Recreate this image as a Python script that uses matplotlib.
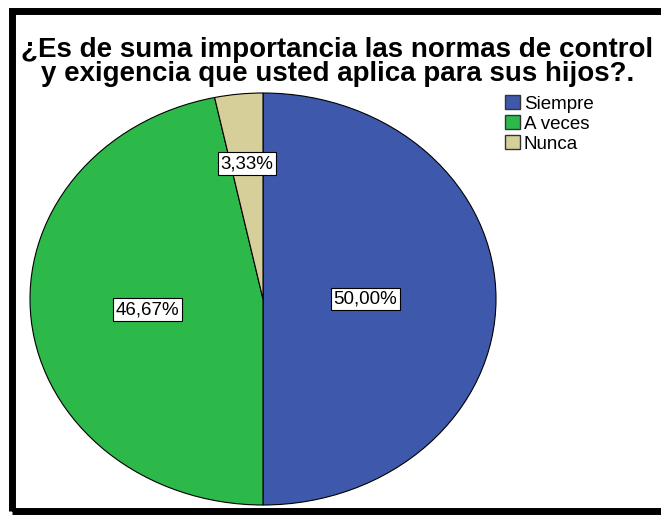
import matplotlib.pyplot as plt
from matplotlib.patches import Rectangle, Patch
import numpy as np

# Datos del gráfico
categorias = ['Siempre', 'A veces', 'Nunca']
porcentajes = [50.00, 46.67, 3.33]
colores = ['#3E58AC', '#2DB84A', '#D6CF9A']
titulo = '¿Es de suma importancia las normas de control\ny exigencia que usted aplica para sus hijos?.'

plt.rcParams['font.family'] = ['Liberation Sans', 'DejaVu Sans']

W, H = 661, 515
fig = plt.figure(figsize=(W / 100, H / 100), dpi=100)

# marco negro alrededor de la figura
fig.patches.append(Rectangle((11.5 / W, 1 - 511 / H), 1.2, (511 - 10.5) / H,
                             transform=fig.transFigure, fill=False,
                             edgecolor='black', linewidth=5))

# pastel elíptico: centro (263, 299), radios 233 x 206 px
cx, cy, rx, ry = 263, 299, 233, 206
ax = fig.add_axes([(cx - rx) / W, 1 - (cy + ry) / H, 2 * rx / W, 2 * ry / H])
wedges, _ = ax.pie(porcentajes, colors=colores, startangle=90, counterclock=False,
                   wedgeprops=dict(edgecolor='black', linewidth=0.8))
ax.set_aspect('auto')
ax.set_xlim(-1, 1)
ax.set_ylim(-1, 1)
ax.axis('off')

# etiquetas de porcentaje
distancias = [0.44, 0.5, 0.66]
for w, p, d in zip(wedges, porcentajes, distancias):
    ang = np.deg2rad((w.theta1 + w.theta2) / 2)
    ax.text(d * np.cos(ang), d * np.sin(ang), f'{p:.2f}%'.replace('.', ','),
            ha='center', va='center', fontsize=13.5,
            bbox=dict(boxstyle='square,pad=0.15', facecolor='white',
                      edgecolor='black', linewidth=0.8))

fig.text(0.5 + 7 / W, 1 - 62 / H, titulo, ha='center', va='center',
         fontsize=20, fontweight='bold', linespacing=0.9)

handles = [Patch(facecolor=c, edgecolor='#333333', linewidth=1) for c in colores]
fig.legend(handles, categorias, loc='upper left', bbox_to_anchor=(505 / W, 1 - 95 / H),
           frameon=False, fontsize=13.5, handlelength=0.8, handleheight=0.8,
           handletextpad=0.2, labelspacing=0.12, borderpad=0, borderaxespad=0)

fig.savefig('out.png', dpi=100)
